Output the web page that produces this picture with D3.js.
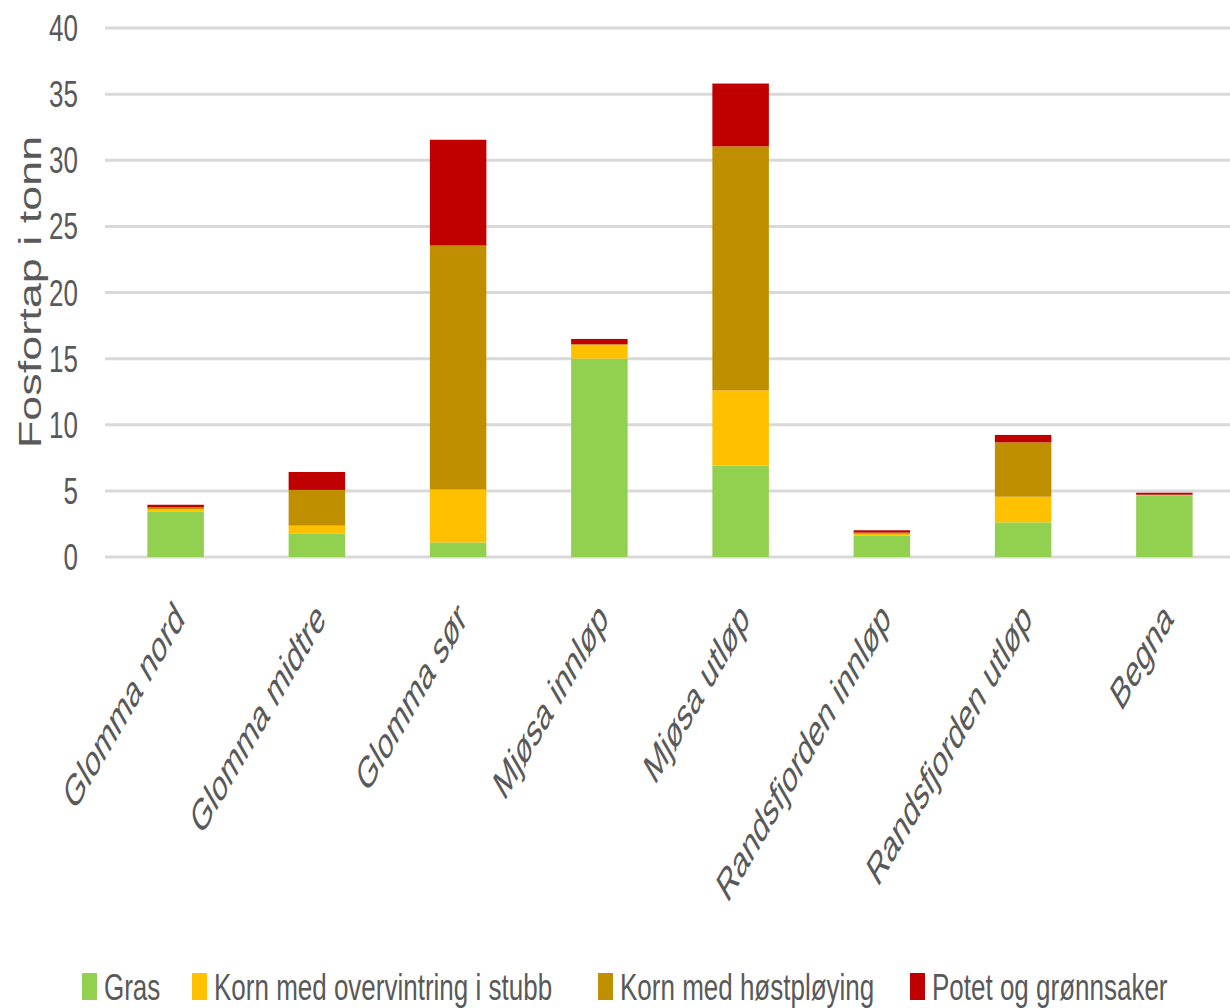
<!DOCTYPE html>
<html>
<head>
<meta charset="utf-8">
<script src="https://cdn.jsdelivr.net/npm/d3@7"></script>
<style>
  body { margin: 0; background: #fff; }
  text { font-family: "Liberation Sans", Arial, sans-serif; fill: #595959; }
</style>
</head>
<body>
<div id="chart"></div>
<script>
// Categories and series (tonn fosfor)
const categories = ["Glomma nord", "Glomma midtre", "Glomma sør", "Mjøsa innløp",
  "Mjøsa utløp", "Randsfjorden innløp", "Randsfjorden utløp", "Begna"];
const seriesNames = ["Gras", "Korn med overvintring i stubb", "Korn med høstpløying", "Potet og grønnsaker"];
const gras   = [3.45, 1.75, 1.1, 15.0, 6.9, 1.6, 2.62, 4.67];
const stubb  = [0.15, 0.62, 4.0, 1.04, 5.7, 0.15, 1.94, 0.02];
const host   = [0.15, 2.7, 18.45, 0.05, 18.45, 0.1, 4.11, 0.02];
const potet  = [0.2, 1.36, 8.0, 0.4, 4.75, 0.17, 0.56, 0.15];
const yTicks = [0, 5, 10, 15, 20, 25, 30, 35, 40];
const colors = ["#92D050", "#FFC000", "#BF8F00", "#C00000"];

const width = 1230, height = 1008;
const stretch = 1.45;      // vertical stretch of horizontal text
const labelStretch = 1.72; // vertical stretch of the slanted labels

const svg = d3.select("#chart").append("svg")
    .attr("width", width)
    .attr("height", height);

// Build table for stacking
const table = categories.map(function(c, i) {
  return { cat: c, s0: gras[i], s1: stubb[i], s2: host[i], s3: potet[i] };
});
const stack = d3.stack().keys(["s0", "s1", "s2", "s3"]);
const layers = stack(table);

const x = d3.scaleBand().domain(categories).range([105, 1235]).paddingInner(0.6).paddingOuter(0.3);
const y = d3.scaleLinear().domain([0, 40]).range([557, 28]);

// Gridlines
svg.append("g")
  .selectAll("line")
  .data(yTicks)
  .enter().append("line")
    .attr("x1", 105)
    .attr("x2", 1230)
    .attr("y1", d => y(d))
    .attr("y2", d => y(d))
    .attr("stroke", "#d9d9d9")
    .attr("stroke-width", 3);

// Y tick labels
svg.append("g")
  .selectAll("text")
  .data(yTicks)
  .enter().append("text")
    .attr("transform", d => "translate(78," + (y(d) + 13) + ") scale(1," + stretch + ")")
    .attr("text-anchor", "end")
    .style("font-size", "26px")
    .text(d => d);

// Bars
svg.append("g")
  .selectAll("g")
  .data(layers)
  .enter().append("g")
    .attr("fill", (d, i) => colors[i])
  .selectAll("rect")
  .data(d => d)
  .enter().append("rect")
    .attr("x", d => x(d.data.cat))
    .attr("width", x.bandwidth())
    .attr("y", d => y(d[1]))
    .attr("height", d => y(d[0]) - y(d[1]));

// Category labels
svg.append("g")
  .selectAll("text")
  .data(categories)
  .enter().append("text")
    .attr("transform", d => "translate(" + (x(d) + x.bandwidth() / 2 + 10) + ",621) scale(1," + labelStretch + ") rotate(-45)")
    .attr("text-anchor", "end")
    .style("font-size", "26px")
    .text(d => d);

// Axis title
svg.append("text")
  .attr("transform", "translate(41,292) scale(1," + stretch + ") rotate(-90)")
  .attr("text-anchor", "middle")
  .style("font-size", "31px")
  .text("Fosfortap i tonn");

// Legend
const legendX = [82, 192, 598, 910];
const legend = svg.append("g")
  .selectAll("g")
  .data(seriesNames)
  .enter().append("g")
    .attr("transform", (d, i) => "translate(" + legendX[i] + ",973)");

legend.append("rect")
  .attr("width", 15)
  .attr("height", 27)
  .attr("fill", (d, i) => colors[i]);

legend.append("text")
  .attr("transform", "translate(22,27) scale(1," + stretch + ")")
  .style("font-size", "26px")
  .text(d => d);
</script>
</body>
</html>
